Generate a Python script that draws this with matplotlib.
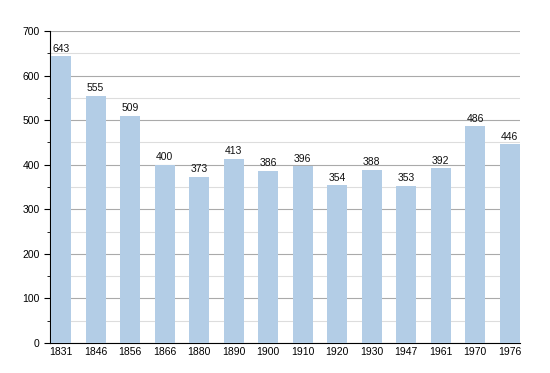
import matplotlib
matplotlib.use("Agg")
import matplotlib.pyplot as plt
from matplotlib.ticker import MultipleLocator

years = ["1831", "1846", "1856", "1866", "1880", "1890", "1900", "1910", "1920", "1930", "1947", "1961", "1970", "1976"]
population = [643, 555, 509, 400, 373, 413, 386, 396, 354, 388, 353, 392, 486, 446]

plt.rcParams['font.family'] = ['Liberation Sans', 'DejaVu Sans']
fig = plt.figure(figsize=(5.5, 3.73), dpi=100)
ax = fig.add_axes([0.0909, 0.0804, 0.8545, 0.8365])

x = list(range(len(years)))
ax.bar(x, population, width=0.58, color="#b3cde6", zorder=3)
for xi, v in zip(x, population):
    ax.text(xi, v + 6, str(v), ha="center", va="bottom", fontsize=7.5, color="#111111", zorder=4)

ax.set_xlim(-0.32, 13.3)
ax.set_ylim(0, 700)
ax.set_xticks(x)
ax.set_xticklabels(years)
ax.yaxis.set_major_locator(MultipleLocator(100))
ax.yaxis.set_minor_locator(MultipleLocator(50))
ax.grid(axis="y", which="major", color="#aaaaaa", linewidth=0.8, zorder=0)
ax.grid(axis="y", which="minor", color="#dddddd", linewidth=0.8, zorder=0)
for s in ["top", "right"]:
    ax.spines[s].set_visible(False)
ax.spines["left"].set_color("black")
ax.spines["bottom"].set_color("black")
ax.tick_params(axis="x", length=0, labelsize=7.5, pad=3)
ax.tick_params(axis="y", which="major", length=4, labelsize=7.5)
ax.tick_params(axis="y", which="minor", length=2)

fig.savefig("out.png", dpi=100)
